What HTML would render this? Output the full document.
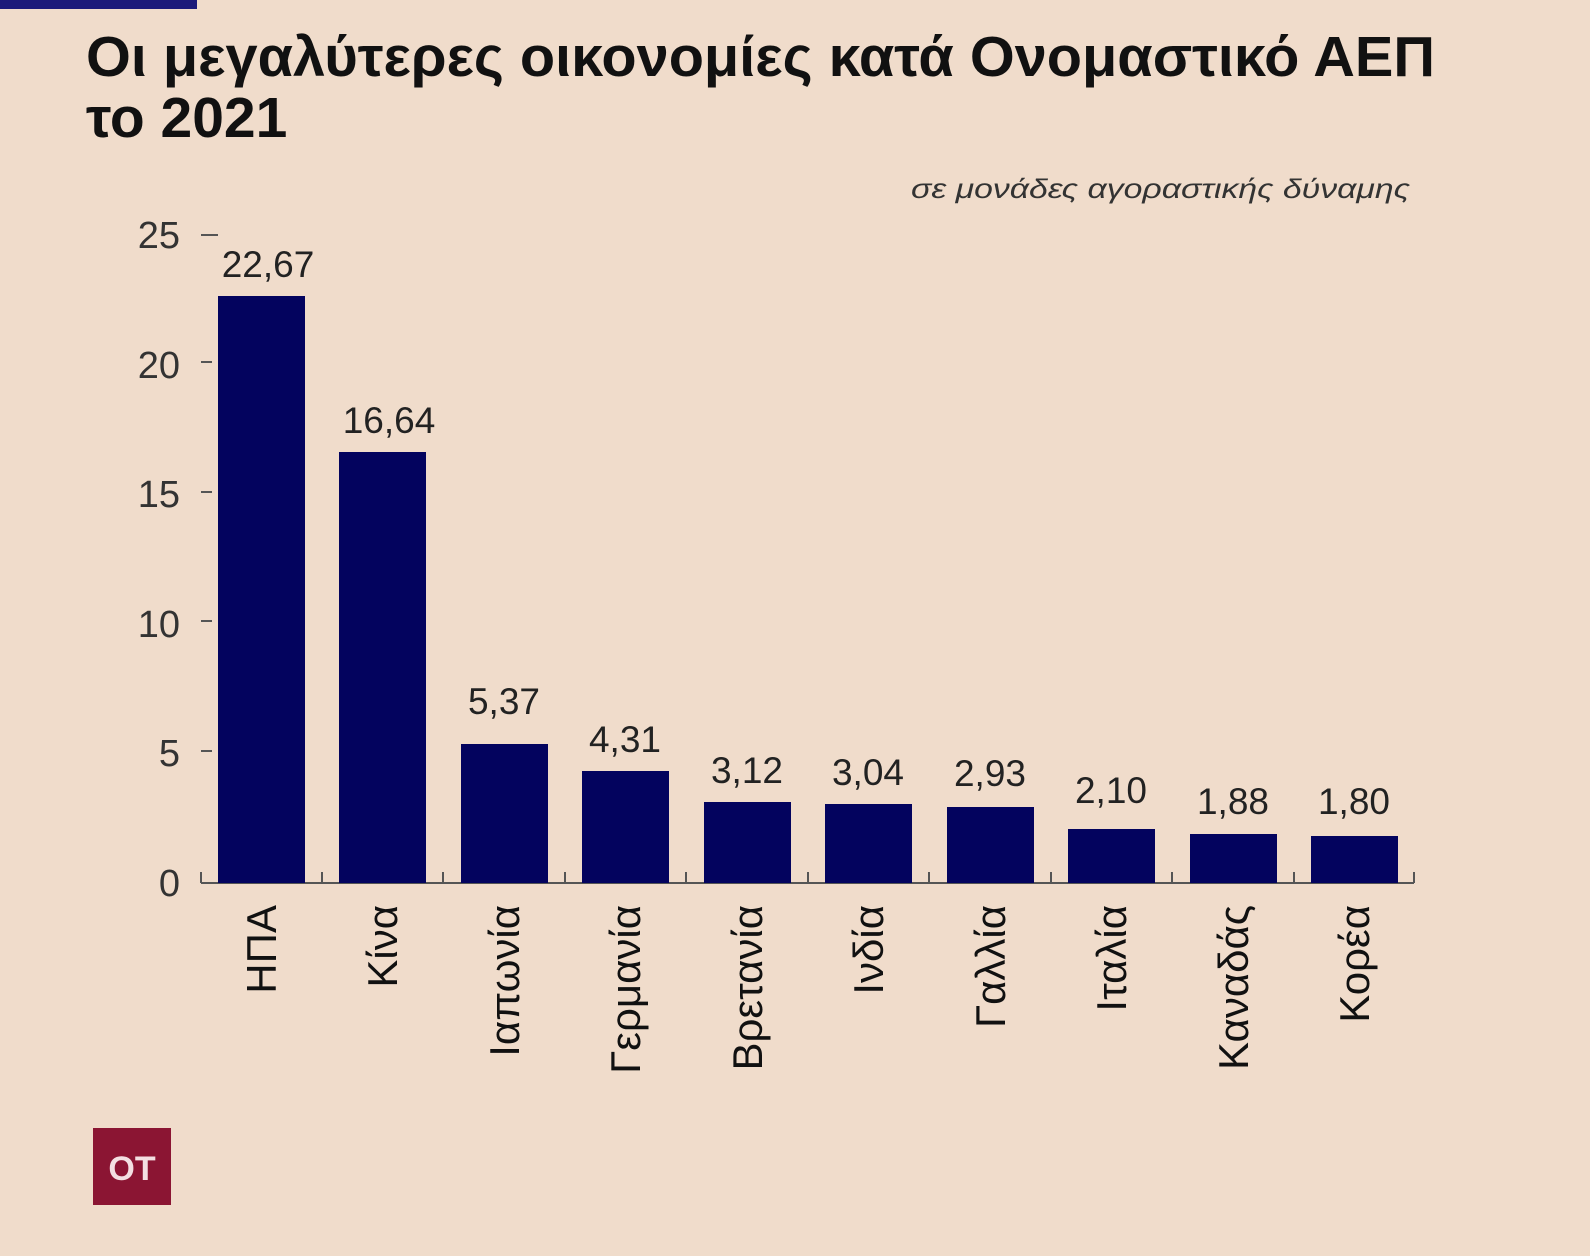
<!DOCTYPE html>
<html><head><meta charset="utf-8"><style>
body{margin:0;background:#f0dccb;}
svg{display:block;}
</style></head><body>
<svg width="1590" height="1256" xmlns="http://www.w3.org/2000/svg" font-family="Liberation Sans, DejaVu Sans, sans-serif">
<rect width="1590" height="1256" fill="#f0dccb"/>
<rect x="0" y="0" width="197" height="9" fill="#1c1a7a"/>
<text x="86" y="76" font-size="57" font-weight="bold" fill="#111" textLength="1349" lengthAdjust="spacingAndGlyphs">Οι μεγαλύτερες οικονομίες κατά Ονομαστικό ΑΕΠ</text>
<text x="86" y="137" font-size="57" font-weight="bold" fill="#111">το 2021</text>
<text x="911" y="198" font-size="27" fill="#333" font-style="italic" textLength="499" lengthAdjust="spacingAndGlyphs">σε μονάδες αγοραστικής δύναμης</text>
<g font-size="38" fill="#333" text-anchor="end">
<text x="180" y="896">0</text>
<text x="180" y="766">5</text>
<text x="180" y="637">10</text>
<text x="180" y="507">15</text>
<text x="180" y="378">20</text>
<text x="180" y="248">25</text>
</g>
<g stroke="#555" stroke-width="2">
<line x1="201" y1="235" x2="218" y2="235"/>
<line x1="201" y1="362" x2="212" y2="362"/>
<line x1="201" y1="492" x2="212" y2="492"/>
<line x1="201" y1="621" x2="212" y2="621"/>
<line x1="201" y1="751" x2="212" y2="751"/>
<line x1="201" y1="883" x2="1414" y2="883"/>
<line x1="201" y1="872" x2="201" y2="883"/>
<line x1="322" y1="872" x2="322" y2="883"/><line x1="443" y1="872" x2="443" y2="883"/><line x1="565" y1="872" x2="565" y2="883"/><line x1="686" y1="872" x2="686" y2="883"/><line x1="808" y1="872" x2="808" y2="883"/><line x1="929" y1="872" x2="929" y2="883"/><line x1="1051" y1="872" x2="1051" y2="883"/><line x1="1172" y1="872" x2="1172" y2="883"/><line x1="1294" y1="872" x2="1294" y2="883"/><line x1="1414" y1="872" x2="1414" y2="883"/>
</g>
<g fill="#03035e">
<rect x="218" y="296" width="87" height="587"/>
<rect x="339" y="452" width="87" height="431"/>
<rect x="461" y="744" width="87" height="139"/>
<rect x="582" y="771" width="87" height="112"/>
<rect x="704" y="802" width="87" height="81"/>
<rect x="825" y="804" width="87" height="79"/>
<rect x="947" y="807" width="87" height="76"/>
<rect x="1068" y="829" width="87" height="54"/>
<rect x="1190" y="834" width="87" height="49"/>
<rect x="1311" y="836" width="87" height="47"/>
</g>
<g font-size="37" fill="#222" text-anchor="middle">
<text x="268" y="277">22,67</text>
<text x="389" y="433">16,64</text>
<text x="504" y="714">5,37</text>
<text x="625" y="752">4,31</text>
<text x="747" y="783">3,12</text>
<text x="868" y="785">3,04</text>
<text x="990" y="786">2,93</text>
<text x="1111" y="803">2,10</text>
<text x="1233" y="814">1,88</text>
<text x="1354" y="814">1,80</text>
</g>
<g font-size="42" fill="#111" text-anchor="end">
<text transform="translate(276,905) rotate(-90)">ΗΠΑ</text>
<text transform="translate(397,905) rotate(-90)">Κίνα</text>
<text transform="translate(519,905) rotate(-90)">Ιαπωνία</text>
<text transform="translate(640,905) rotate(-90)">Γερμανία</text>
<text transform="translate(762,905) rotate(-90)">Βρετανία</text>
<text transform="translate(883,905) rotate(-90)">Ινδία</text>
<text transform="translate(1005,905) rotate(-90)">Γαλλία</text>
<text transform="translate(1126,905) rotate(-90)">Ιταλία</text>
<text transform="translate(1248,905) rotate(-90)">Καναδάς</text>
<text transform="translate(1369,905) rotate(-90)">Κορέα</text>
</g>
<rect x="93" y="1128" width="78" height="77" fill="#8b1533"/>
<text x="132" y="1180" font-size="34" font-weight="bold" fill="#f3dfe2" text-anchor="middle">ΟΤ</text>
</svg>
</body></html>
